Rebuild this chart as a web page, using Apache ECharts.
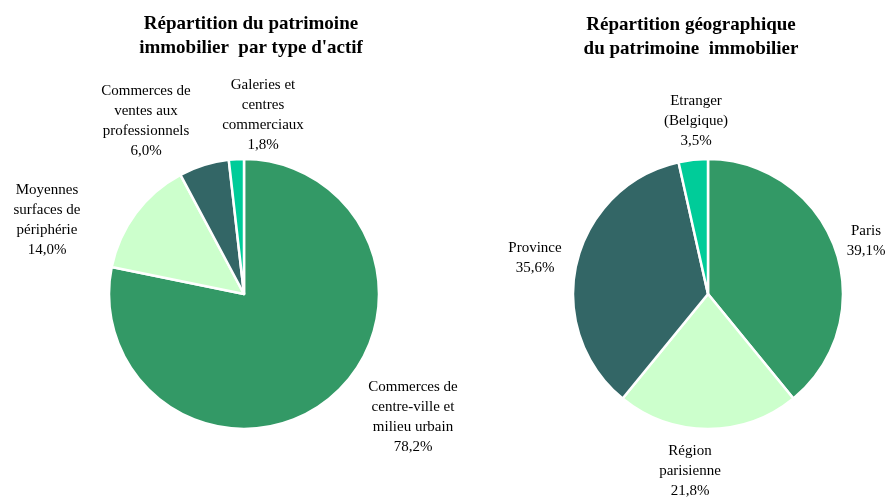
<!DOCTYPE html>
<html>
<head>
<meta charset="utf-8">
<script src="https://cdn.jsdelivr.net/npm/echarts@6/dist/echarts.min.js"></script>
<style>
  html, body { margin: 0; padding: 0; background: #fff; }
  #chart { width: 888px; height: 499px; }
</style>
</head>
<body>
<div id="chart"></div>
<script>
// Répartition par type d'actif
const typeNames = [
  'Commerces de\ncentre-ville et\nmilieu urbain',
  'Moyennes\nsurfaces de\npériphérie',
  'Commerces de\nventes aux\nprofessionnels',
  'Galeries et\ncentres\ncommerciaux'
]
const typeValues = [78.2, 14.0, 6.0, 1.8]
const typeColors = ['#339966', '#CCFFCC', '#336666', '#00CC99']

// Répartition géographique
const geoNames = ['Paris', 'Région\nparisienne', 'Province', 'Etranger\n(Belgique)']
const geoValues = [39.1, 21.8, 35.6, 3.5]
const geoColors = ['#339966', '#CCFFCC', '#336666', '#00CC99']

// positions des étiquettes (centre du bloc de texte)
const typeLabelPos = [[413, 417], [47, 220], [146, 121], [263, 115]]
const geoLabelPos = [[866, 241], [690, 471], [535, 258], [696, 121]]

const fmt = v => v.toFixed(1).replace('.', ',') + '%'

const chart = echarts.init(document.getElementById('chart'))

const pieSeries = (names, values, colors, center, labelPos) => ({
  type: 'pie',
  center: center,
  radius: 135,
  startAngle: 90,
  clockwise: true,
  animation: false,
  data: names.map((n, i) => ({ name: n, value: values[i], itemStyle: { color: colors[i] } })),
  itemStyle: { borderColor: '#fff', borderWidth: 2.5 },
  label: {
    show: true,
    position: 'outside',
    overflow: 'none',
    fontFamily: 'Liberation Serif',
    fontSize: 15,
    lineHeight: 20,
    color: '#000',
    align: 'center',
    formatter: p => p.name + '\n' + fmt(p.value)
  },
  labelLine: { show: false },
  labelLayout: p => ({
    x: labelPos[p.dataIndex][0],
    y: labelPos[p.dataIndex][1],
    align: 'center',
    verticalAlign: 'middle'
  }),
  emphasis: { disabled: true }
})

chart.setOption({
  animation: false,
  title: [
    {
      text: 'Répartition du patrimoine\nimmobilier  par type d\'actif',
      left: 246,
      top: 7,
      textAlign: 'center',
      textStyle: { fontFamily: 'Liberation Serif', fontSize: 19, fontWeight: 'bold', lineHeight: 24, color: '#000' }
    },
    {
      text: 'Répartition géographique\ndu patrimoine  immobilier',
      left: 686,
      top: 8,
      textAlign: 'center',
      textStyle: { fontFamily: 'Liberation Serif', fontSize: 19, fontWeight: 'bold', lineHeight: 24, color: '#000' }
    }
  ],
  series: [
    pieSeries(typeNames, typeValues, typeColors, [244, 294], typeLabelPos),
    pieSeries(geoNames, geoValues, geoColors, [708, 294], geoLabelPos)
  ]
})
</script>
</body>
</html>
